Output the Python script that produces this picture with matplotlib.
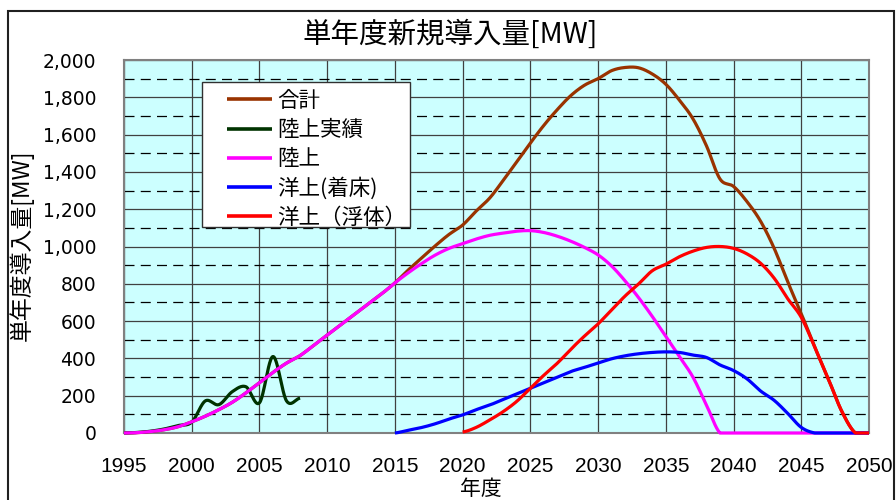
import numpy as np
import matplotlib
matplotlib.use("Agg")
import matplotlib.pyplot as plt
from matplotlib.patches import Rectangle
from matplotlib.ticker import MultipleLocator, FuncFormatter

CJK = ["Noto Sans CJK JP", "DejaVu Sans"]

# ---- data (MW per fiscal year) ----
years_all = list(range(1995, 2051))

total = [0, 2, 8, 18, 34, 60, 90, 125, 165, 215, 270, 325, 375, 415, 470, 525,
         580, 635, 690, 745,
         805, 875, 940, 1005, 1065, 1115, 1190, 1260, 1355, 1455, 1555, 1650,
         1735, 1810, 1865, 1900, 1943, 1960, 1958, 1925, 1870, 1785, 1685, 1540,
         1362, 1322, 1240, 1135, 990, 810, 640, 460, 290, 115, 0, 0]

years_actual = list(range(1995, 2009))
land_actual = [0, 3, 10, 22, 40, 58, 172, 152, 222, 248, 162, 410, 172, 187]

land = [0, 2, 8, 18, 34, 60, 90, 125, 165, 215, 270, 325, 375, 415, 470, 525,
        580, 635, 690, 745, 805, 860, 910, 955, 990, 1015, 1040, 1060, 1072,
        1082, 1085, 1075, 1055, 1028, 995, 955, 895, 815, 725, 625, 518, 410,
        300, 150, 0, 0, 0, 0, 0, 0, 0, 0, 0, 0, 0, 0]

years_fixed = list(range(2015, 2051))
offshore_fixed = [0, 15, 30, 50, 75, 97, 125, 150, 180, 210, 240, 270, 300, 330,
                  352, 375, 398, 414, 425, 432, 435, 432, 418, 405, 365, 335,
                  290, 225, 175, 105, 30, 0, 0, 0, 0, 0]

years_float = list(range(2020, 2051))
offshore_float = [5, 30, 70, 115, 170, 240, 310, 375, 450, 520, 585, 660, 735,
                  800, 870, 905, 945, 975, 995, 1000, 990, 960, 910, 830, 720,
                  620, 460, 290, 115, 0, 0]

series = [
    ("合計", years_all, total, "#993300"),
    ("陸上実績", years_actual, land_actual, "#003300"),
    ("陸上", years_all, land, "#FF00FF"),
    ("洋上(着床)", years_fixed, offshore_fixed, "#0000FF"),
    ("洋上（浮体）", years_float, offshore_float, "#FF0000"),
]


def smooth(x, y, n=24):
    """Catmull-Rom curve through the given points (smoothed line style)."""
    x = np.asarray(x, float)
    y = np.asarray(y, float)
    xp = np.concatenate([[2 * x[0] - x[1]], x, [2 * x[-1] - x[-2]]])
    yp = np.concatenate([[y[0]], y, [y[-1]]])
    xs, ys = [], []
    t = np.linspace(0, 1, n, endpoint=False)
    for i in range(1, len(xp) - 2):
        p0, p1, p2, p3 = yp[i - 1], yp[i], yp[i + 1], yp[i + 2]
        m1 = (p2 - p0) / 2
        m2 = (p3 - p1) / 2
        h00 = 2 * t**3 - 3 * t**2 + 1
        h10 = t**3 - 2 * t**2 + t
        h01 = -2 * t**3 + 3 * t**2
        h11 = t**3 - t**2
        ys.append(h00 * p1 + h10 * m1 + h01 * p2 + h11 * m2)
        xs.append(xp[i] + t * (xp[i + 1] - xp[i]))
    xs.append([x[-1]])
    ys.append([y[-1]])
    return np.concatenate(xs), np.maximum(np.concatenate(ys), 0)


W, H = 896, 500
fig = plt.figure(figsize=(W / 100, H / 100), dpi=100)
ax_l, ax_r, ax_t, ax_b = 124, 869, 60, 433
ax = fig.add_axes([ax_l / W, (H - ax_b) / H, (ax_r - ax_l) / W, (ax_b - ax_t) / H])
ax.set_facecolor("#CCFFFF")

for label, xs, ys, color in series:
    sx, sy = smooth(xs, ys)
    ax.plot(sx, sy, color=color, lw=2.3, label=label, solid_capstyle="butt",
            clip_on=False, zorder=3)

ax.set_xlim(1995, 2050)
ax.set_ylim(0, 2000)
ax.xaxis.set_major_locator(MultipleLocator(5))
ax.yaxis.set_major_locator(MultipleLocator(200))
ax.yaxis.set_minor_locator(MultipleLocator(100))
ax.yaxis.set_major_formatter(FuncFormatter(lambda v, p: f"{int(v):,}"))

ax.grid(True, which="major", axis="both", color="#404040", lw=0.9, zorder=1)
ax.grid(True, which="minor", axis="y", color="black", lw=0.9,
        linestyle=(0, (8, 5)), zorder=1)
ax.set_axisbelow(True)

for s in ax.spines.values():
    s.set_color("#808080")
    s.set_linewidth(1.5)

ax.tick_params(axis="both", which="both", length=0)
ax.tick_params(axis="y", pad=20, labelsize=13.5)
ax.tick_params(axis="x", pad=17, labelsize=15)
for lab in ax.get_yticklabels():
    lab.set_family("DejaVu Sans")
for lab in ax.get_xticklabels():
    lab.set_family("Liberation Sans")

fig.text(0.502, 1 - 35 / H, "単年度新規導入量[MW]", ha="center", va="center",
         fontsize=20.5, family=CJK)
fig.text(21 / W, 1 - 245 / H, "単年度導入量[MW]", ha="center", va="center",
         rotation=90, fontsize=16.5, family=CJK)
fig.text(481 / W, 1 - 489 / H, "年度", ha="center", va="center",
         fontsize=15, family=CJK)


def to_axes(px, py):
    return (px - ax_l) / (ax_r - ax_l), (ax_b - py) / (ax_b - ax_t)


# legend frame drawn separately so the entries can sit inset from the border
lx0, ly0 = to_axes(202, 227)
lx1, ly1 = to_axes(410, 82)
ax.add_patch(Rectangle((lx0, ly0), lx1 - lx0, ly1 - ly0, transform=ax.transAxes,
                       facecolor="white", edgecolor="#303030", lw=1.0, zorder=4,
                       clip_on=False))
leg = ax.legend(loc="upper left", bbox_to_anchor=to_axes(227, 90),
                prop={"family": CJK, "size": 15.5}, frameon=False,
                borderpad=0.0, labelspacing=0.33, handlelength=2.1,
                handletextpad=0.25, borderaxespad=0)
leg.set_zorder(5)
for h in leg.get_lines():
    h.set_linewidth(2.6)

fig.patches.append(Rectangle((7.5 / W, -0.02), (894 - 7.5) / W, (H - 10.5) / H + 0.02,
                             transform=fig.transFigure, fill=False,
                             edgecolor="#202020", lw=1.5))

fig.savefig("out.png", dpi=100)
